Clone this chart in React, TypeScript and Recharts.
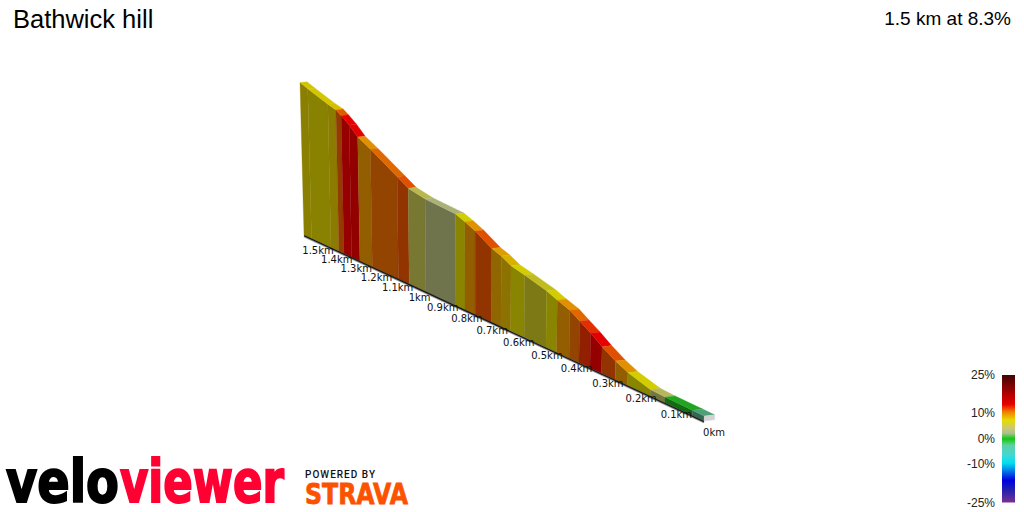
import React from "react";
import { ScatterChart, Scatter, XAxis, YAxis } from "recharts";

// distance from the finish (km) at each gradient change, far end first
const distances = [1.5, 1.458, 1.353, 1.312, 1.286, 1.247, 1.206, 1.146, 1.025, 0.977, 0.905, 0.782, 0.746, 0.707, 0.645, 0.611, 0.576, 0.529, 0.455, 0.42, 0.38, 0.349, 0.315, 0.28, 0.24, 0.204, 0.141, 0.101, 0.03, 0];
// elevation above the low end (m)
const elevations = [124.9, 121.5, 113.4, 110.7, 107.3, 101.7, 94.3, 87.9, 73.8, 68.1, 64.6, 61.8, 58.7, 54.9, 47.3, 44.6, 40.8, 38.2, 33.7, 30.6, 27.5, 23.3, 18.8, 13.5, 8.4, 4.9, 1, 0.5, 0.2, 0];
// gradient (%) of each stretch
const grades = [8, 7.8, 8.3, 12, 14.5, 15.5, 10, 11.5, 12.5, 5, 2.3, 7.5, 10, 12.5, 9.6, 9, 7.5, 6, 7.5, 10, 11.5, 13, 15, 12.5, 10, 7.5, 4, 1, -0.5];
const tickKm = [1.5, 1.4, 1.3, 1.2, 1.1, 1, 0.9, 0.8, 0.7, 0.6, 0.5, 0.4, 0.3, 0.2, 0.1, 0];
const tickText = ["1.5km", "1.4km", "1.3km", "1.2km", "1.1km", "1km", "0.9km", "0.8km", "0.7km", "0.6km", "0.5km", "0.4km", "0.3km", "0.2km", "0.1km", "0km"];
const legendValues = ["25%", "10%", "0%", "-10%", "-25%"];
const legendRows = [375, 413, 438.5, 464, 502.5];

const gradeStops: [number, string][] = [
  [-1, "#4fa080"], [-0.5, "#4f9f7a"], [1, "#1fa51f"], [2.3, "#aab276"], [4, "#b6b65c"], [5, "#b8b84e"], [6, "#c0bc20"],
  [7.5, "#d2cc00"], [9, "#d8b000"], [10, "#e09000"], [11.5, "#e06800"], [12.5, "#e05000"], [13, "#e03000"], [14.5, "#e60000"], [16, "#e00000"],
];
const legendStops: [number, string][] = [
  [0, "#3f0505"], [0.18, "#c80000"], [0.23, "#e80000"], [0.29, "#f08000"], [0.354, "#e8dc00"], [0.42, "#c8c878"], [0.458, "#a8c090"],
  [0.5, "#10c810"], [0.55, "#60d0a0"], [0.63, "#40d8d8"], [0.69, "#00e0f0"], [0.825, "#0000e0"], [0.9, "#2020b0"], [1, "#7b3090"],
];

const hex = (c: string) => [1, 3, 5].map((i) => parseInt(c.slice(i, i + 2), 16));
const mix = (a: number[], b: number[], t: number) => a.map((v, i) => v + (b[i] - v) * t);
const css = (c: number[]) => `rgb(${c.map((v) => Math.round(v)).join(",")})`;
function gradeRgb(g: number) {
  if (g <= gradeStops[0][0]) return hex(gradeStops[0][1]);
  for (let i = 1; i < gradeStops.length; i++) {
    if (g <= gradeStops[i][0]) {
      const [g0, c0] = gradeStops[i - 1];
      const [g1, c1] = gradeStops[i];
      return mix(hex(c0), hex(c1), (g - g0) / (g1 - g0));
    }
  }
  return hex(gradeStops[gradeStops.length - 1][1]);
}

// perspective projection of the ribbon
const depth = (d: number) => 3 / (3 + d);
const VX = -496, VY = -137;
const groundX = (d: number) => VX + 1200 * depth(d);
const groundY = (d: number) => VY + 558 * depth(d);
const metre = 1.79;
const plinth = 5;
function topNear(d: number, e: number) {
  const s = depth(d);
  const H = (plinth + e * metre) * s;
  const bx = groundX(d);
  return { x: bx + (bx - 478) * 0.000151 * H, y: groundY(d) - H };
}
const farSide = (p: { x: number; y: number }, d: number) => ({ x: p.x + 10.5 * depth(d), y: p.y - 1.2 * depth(d) });

type Pt = { x: number; y: number };
const hidden = () => <g />;
const poly = (fill: string) => (p: any) => (
  <polygon points={p.points.map((q: Pt) => `${q.x},${q.y}`).join(" ")} fill={fill} stroke={fill} strokeWidth={0.3} />
);
const stroked = (color: string, w: number) => (p: any) => (
  <polyline points={p.points.map((q: Pt) => `${q.x},${q.y}`).join(" ")} fill="none" stroke={color} strokeWidth={w} />
);

const stretches = grades.map((g, i) => {
  const d0 = distances[i], d1 = distances[i + 1];
  const a = topNear(d0, elevations[i]);
  const b = topNear(d1, elevations[i + 1]);
  const rgb = gradeRgb(g);
  return {
    top: css(rgb),
    side: css(rgb.map((v) => v * 0.65)),
    wall: [a, b, { x: groundX(d1), y: groundY(d1) }, { x: groundX(d0), y: groundY(d0) }],
    deck: [a, b, farSide(b, d1), farSide(a, d0)],
  };
});

const endTop = topNear(0, 0);
const endFar = farSide(endTop, 0);
const endFace = [endTop, endFar, { x: endFar.x, y: endFar.y + plinth }, { x: endTop.x, y: endTop.y + plinth }];
const groundLine = [1.5, 0].map((d) => ({ x: groundX(d), y: groundY(d) + 0.6 }));
const groundShade = groundLine.map((p) => ({ x: p.x, y: p.y + 1 }));
const tickLabels = tickKm.map((d, i) => ({
  x: groundX(d) + 10 + 2.67 * d + 6 * d * (1.5 - d),
  y: groundY(d) + 11 + 3.3 * d + 3 * d * (1.5 - d),
  label: tickText[i],
}));

const tickShape = (p: any) => (
  <text x={p.cx} y={p.cy} textAnchor="middle" dominantBaseline="central" fontFamily="DejaVu Sans" fontSize={10} fill="#111">
    {p.payload.label}
  </text>
);

export default function App() {
  return (
    <div style={{ position: "fixed", left: 0, top: 0, width: 1024, height: 512, background: "#fff" }}>
      <div style={{ position: "absolute", left: 0, top: 0 }}>
        <ScatterChart width={1024} height={512} margin={{ top: 0, right: 0, bottom: 0, left: 0 }}>
          <XAxis type="number" dataKey="x" domain={[0, 1024]} hide />
          <YAxis type="number" dataKey="y" domain={[0, 512]} reversed hide />
          <Scatter data={groundShade} shape={hidden} line={stroked("#999", 1.5)} isAnimationActive={false} />
          {stretches.map((s, i) => (
            <Scatter key={"w" + i} data={s.wall} shape={hidden} line={poly(s.side)} isAnimationActive={false} />
          ))}
          <Scatter data={groundLine} shape={hidden} line={stroked("#1a1a1a", 1.4)} isAnimationActive={false} />
          {stretches.map((s, i) => (
            <Scatter key={"d" + i} data={s.deck} shape={hidden} line={poly(s.top)} isAnimationActive={false} />
          ))}
          <Scatter data={endFace} shape={hidden} line={poly("#d2d2d2")} isAnimationActive={false} />
          <Scatter data={tickLabels} shape={tickShape} isAnimationActive={false} />
        </ScatterChart>
      </div>
      <svg width={1024} height={512} style={{ position: "absolute", left: 0, top: 0, pointerEvents: "none" }}>
        <defs>
          <linearGradient id="gradeScale" x1="0" y1="0" x2="0" y2="1">
            {legendStops.map(([o, c]) => (
              <stop key={o} offset={o} stopColor={c} />
            ))}
          </linearGradient>
        </defs>
        <text x={13} y={28} fontFamily="Liberation Sans" fontSize={25.5} fill="#000">Bathwick hill</text>
        <text x={1011} y={25} textAnchor="end" fontFamily="Liberation Sans" fontSize={19} fill="#000">1.5 km at 8.3%</text>
        <rect x={1002} y={375} width={13} height={127.5} fill="url(#gradeScale)" />
        {legendValues.map((v, i) => (
          <text key={v} x={995} y={legendRows[i]} textAnchor="end" dominantBaseline="central" fontFamily="Liberation Sans" fontSize={12} fill="#222">{v}</text>
        ))}
        <text x={6} y={502} fontFamily="DejaVu Sans" fontWeight={700} fontSize={58} fill="#000" stroke="#000" strokeWidth={2} textLength={113} lengthAdjust="spacingAndGlyphs">velo</text>
        <text x={120} y={502} fontFamily="DejaVu Sans" fontWeight={700} fontSize={58} fill="#ff0033" stroke="#ff0033" strokeWidth={2} textLength={164} lengthAdjust="spacingAndGlyphs">viewer</text>
        <text x={305} y={478} fontFamily="Roboto" fontWeight={500} fontSize={10} fill="#111" textLength={70} lengthAdjust="spacing">POWERED BY</text>
        <text x={305} y={504} fontFamily="DejaVu Sans" fontWeight={700} fontSize={28} fill="#fc5200" stroke="#fc5200" strokeWidth={0.8} textLength={103} lengthAdjust="spacingAndGlyphs">STRAVA</text>
      </svg>
    </div>
  );
}
